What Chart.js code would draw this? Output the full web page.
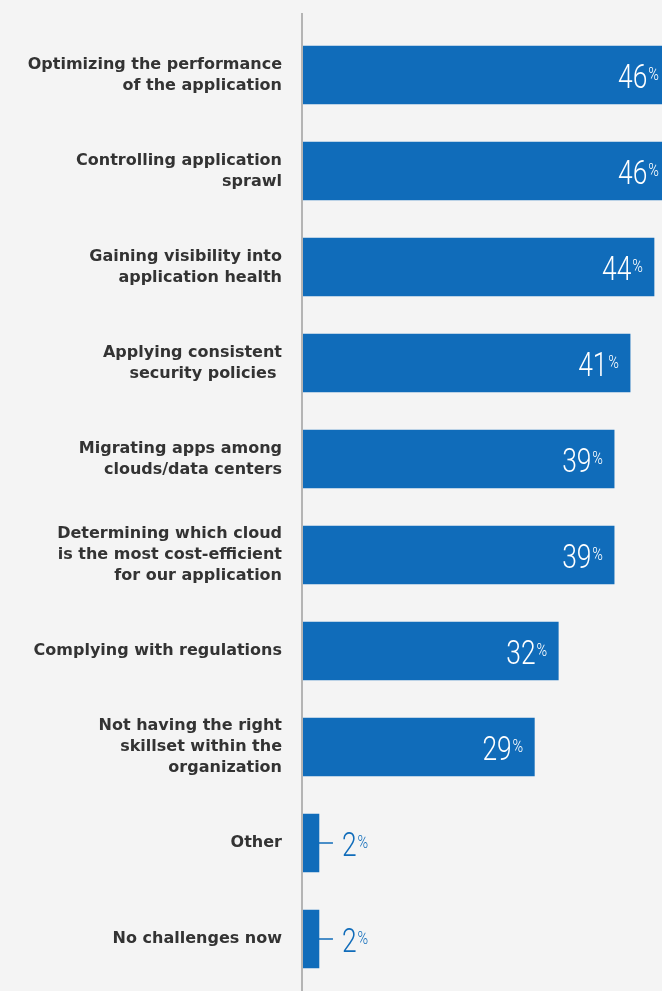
<!DOCTYPE html>
<html>
<head>
<meta charset="utf-8">
<script src="https://cdn.jsdelivr.net/npm/chart.js@4/dist/chart.umd.min.js"></script>
<style>
  html, body { margin: 0; padding: 0; background: #f4f4f4; }
  #wrap { width: 662px; height: 991px; position: relative; }
</style>
</head>
<body>
<div id="wrap"><canvas id="chart"></canvas></div>
<script>
// Challenges in managing applications across clouds (% of respondents)
const categories = [
  ["Optimizing the performance", "of the application"],
  ["Controlling application", "sprawl"],
  ["Gaining visibility into", "application health"],
  ["Applying consistent", "security policies "],
  ["Migrating apps among", "clouds/data centers"],
  ["Determining which cloud", "is the most cost-efficient", "for our application"],
  "Complying with regulations",
  ["Not having the right", "skillset within the", "organization"],
  "Other",
  "No challenges now"
];
const shares = [46, 46, 44, 41, 39, 39, 32, 29, 2, 2];

const BLUE = '#106cba';
const TEXT = '#333333';
const AXIS = '#b4b4b4';

// Vertical axis rule, running from just above the first bar to the bottom edge
const axisRule = {
  id: 'axisRule',
  afterDatasetsDraw(chart) {
    const { ctx, scales: { x } } = chart;
    const px = x.getPixelForValue(0);
    ctx.save();
    ctx.fillStyle = AXIS;
    ctx.fillRect(px - 2, chart.chartArea.top - 14, 2, chart.height);
    ctx.restore();
  }
};

// Value labels: condensed figure with a small raised percent sign
const valueLabels = {
  id: 'valueLabels',
  afterDatasetsDraw(chart) {
    const { ctx } = chart;
    const meta = chart.getDatasetMeta(0);
    const squeeze = 0.8;
    const numFont = '300 33px Roboto, sans-serif';
    const pctFont = '300 18px Roboto, sans-serif';
    ctx.save();
    meta.data.forEach((bar, i) => {
      const v = shares[i];
      const num = String(v);
      ctx.font = pctFont;
      const pw = ctx.measureText('%').width * squeeze;
      ctx.font = numFont;
      const nw = ctx.measureText(num).width * squeeze;
      const cy = bar.y;
      let left;
      if (v >= 10) {
        ctx.fillStyle = '#ffffff';
        left = bar.x - 12 - pw - nw;
      } else {
        ctx.strokeStyle = BLUE;
        ctx.lineWidth = 1.5;
        ctx.beginPath();
        ctx.moveTo(bar.x, cy);
        ctx.lineTo(bar.x + 14, cy);
        ctx.stroke();
        ctx.fillStyle = BLUE;
        left = bar.x + 23;
      }
      ctx.textAlign = 'left';
      ctx.textBaseline = 'alphabetic';
      ctx.save();
      ctx.translate(left, cy);
      ctx.scale(squeeze, 1);
      ctx.font = numFont;
      ctx.fillText(num, 0, 13);
      ctx.font = pctFont;
      ctx.fillText('%', nw / squeeze + 1, 5);
      ctx.restore();
    });
    ctx.restore();
  }
};

new Chart(document.getElementById('chart'), {
  type: 'bar',
  data: {
    labels: categories,
    datasets: [{
      data: shares,
      backgroundColor: BLUE,
      borderWidth: 0,
      barThickness: 58
    }]
  },
  options: {
    indexAxis: 'y',
    responsive: true,
    maintainAspectRatio: false,
    animation: false,
    layout: { padding: { top: 27, bottom: 4, left: 0, right: 0 } },
    plugins: {
      legend: { display: false },
      tooltip: { enabled: false }
    },
    scales: {
      x: {
        min: 0,
        max: 45,
        display: false
      },
      y: {
        grid: { display: false, drawTicks: false },
        border: { display: false },
        afterFit(scale) {
          scale.width = 303;
          scale.paddingTop = 0;
          scale.paddingBottom = 0;
        },
        ticks: {
          padding: 21,
          color: TEXT,
          font: { family: '"DejaVu Sans"', weight: 'bold', size: 16, lineHeight: 1.3125 }
        }
      }
    }
  },
  plugins: [axisRule, valueLabels]
});
</script>
</body>
</html>
